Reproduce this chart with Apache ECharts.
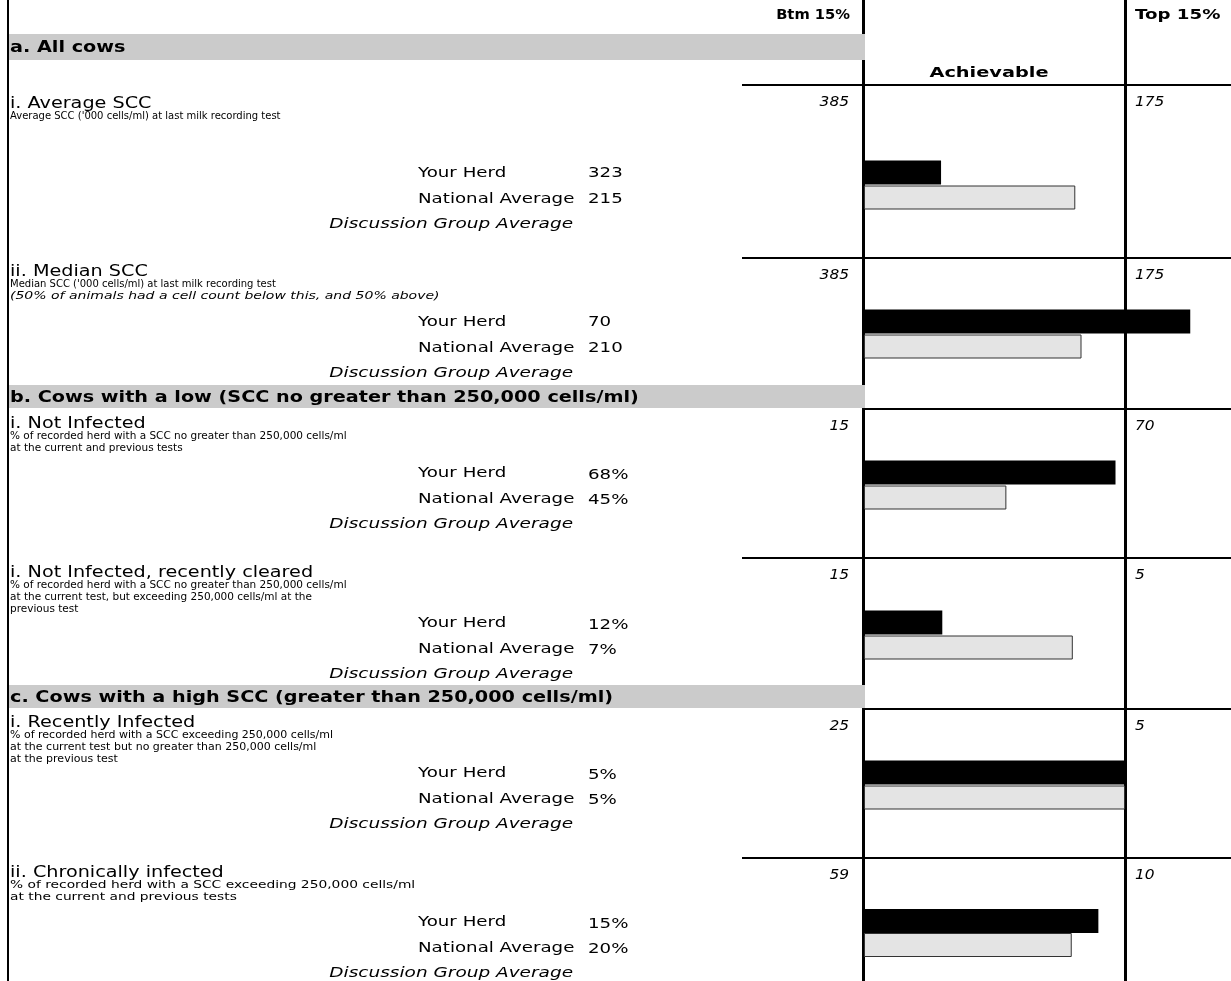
<!DOCTYPE html>
<html><head><meta charset="utf-8">
<script src="https://cdn.jsdelivr.net/npm/echarts@6/dist/echarts.min.js"></script>
<style>html,body{margin:0;padding:0;background:#fff}#c{width:1231px;height:981px}</style>
</head><body><div id="c"></div>
<script>
// ---------------- DATA ----------------
const sections = [
  'a. All cows',
  'b. Cows with a low (SCC no greater than 250,000 cells/ml)',
  'c. Cows with a high SCC (greater than 250,000 cells/ml)'
];
const columnHeaders = ['Btm 15%', 'Achievable', 'Top 15%'];
const categories = ['Your Herd', 'National Average', 'Discussion Group Average'];
const rowTitles = [
  'i. Average SCC',
  'ii. Median SCC',
  'i. Not Infected',
  'i. Not Infected, recently cleared',
  'i. Recently Infected',
  'ii. Chronically infected'
];
const rowDescriptions = [
  ["Average SCC ('000 cells/ml) at last milk recording test"],
  ["Median SCC ('000 cells/ml) at last milk recording test"],
  ['% of recorded herd with a SCC no greater than 250,000 cells/ml', 'at the current and previous tests'],
  ['% of recorded herd with a SCC no greater than 250,000 cells/ml', 'at the current test, but exceeding 250,000 cells/ml at the', 'previous test'],
  ['% of recorded herd with a SCC exceeding 250,000 cells/ml', 'at the current test but no greater than 250,000 cells/ml', 'at the previous test'],
  ['% of recorded herd with a SCC exceeding 250,000 cells/ml', 'at the current and previous tests']
];
const rowNotes = ['', '(50% of animals had a cell count below this, and 50% above)', '', '', '', ''];
const btmValues = [385, 385, 15, 15, 25, 59];
const topValues = [175, 175, 70, 5, 5, 10];
const yourHerd = [323, 70, 68, 12, 5, 15];
const nationalAverage = [215, 210, 45, 7, 5, 20];
const discussionGroup = [null, null, null, null, null, null];
const valueUnits = ['', '', '%', '%', '%', '%'];

// ---------------- LAYOUT ----------------
const FONT = '"DejaVu Sans", "Liberation Sans", Arial, sans-serif';
const X_BTM = 864, X_TOP = 1125;
const AXIS_MAX = 1.25;
const barTops = [160, 309, 460, 610, 760, 909];
const rowLines = [85, 258, 409, 558, 709, 858];
const rowLineStart = [742, 742, 863, 742, 863, 742];
const titleY = [104, 272, 424, 573, 723, 873];
const descScale = [1.0, 1.0, 1.05, 1.05, 1.1, 1.38];
const bands = [[34, 26], [385, 23], [685, 23]];

const score = (v, i) => (v == null ? '-' : (v - btmValues[i]) / (topValues[i] - btmValues[i]));

const grids = [], xAxes = [], yAxes = [], series = [];
barTops.forEach((t, i) => {
  grids.push({left: X_BTM, top: t, width: (X_TOP - X_BTM) * AXIS_MAX, height: 75});
  xAxes.push({type: 'value', gridIndex: i, min: 0, max: AXIS_MAX, show: false});
  yAxes.push({type: 'category', gridIndex: i, data: categories, inverse: true, show: false});
  series.push({
    type: 'bar', xAxisIndex: i, yAxisIndex: i, barWidth: 24, clip: true, silent: true,
    data: [
      {value: score(yourHerd[i], i), itemStyle: {color: '#000000'}},
      {value: score(nationalAverage[i], i), itemStyle: {color: '#e4e4e4', borderColor: '#333333', borderWidth: 1}},
      {value: score(discussionGroup[i], i), itemStyle: {color: '#999999'}}
    ]
  });
});

const g = [];
const line = (x1, y1, x2, y2, w) => g.push({type: 'line', silent: true, z: 1,
  shape: {x1, y1, x2, y2}, style: {stroke: '#000', lineWidth: w}});
const text = (t, x, y, size, opts = {}, sx = 1) => g.push({type: 'text', silent: true, z: 5,
  x, y, scaleX: sx, scaleY: 1,
  style: Object.assign({text: t, x: 0, y: 0, fontFamily: FONT, fontSize: size, fill: '#000',
    align: 'left', verticalAlign: 'middle'}, opts)});

// grid lines
line(8, 0, 8, 981, 2);
line(863.5, 0, 863.5, 981, 3);
line(1125.5, 0, 1125.5, 981, 3);
rowLines.forEach((y, i) => line(rowLineStart[i], y, 1231, y, 2));
// section bands
bands.forEach(b => g.push({type: 'rect', silent: true, z: 2,
  shape: {x: 9, y: b[0], width: 856, height: b[1]}, style: {fill: '#cbcbcb'}}));
sections.forEach((s, i) => text(s, 10, bands[i][0] + bands[i][1] / 2 + 1, 16, {fontWeight: 'bold'}, 1.2));

// column headers
text(columnHeaders[0], 850, 15, 14, {fontWeight: 'bold', align: 'right'}, 1.05);
text(columnHeaders[1], 989, 73, 14, {fontWeight: 'bold', align: 'center'}, 1.38);
text(columnHeaders[2], 1135, 15, 14, {fontWeight: 'bold'}, 1.3);

// rows
rowTitles.forEach((t, i) => {
  text(t, 10, titleY[i], 15, {}, 1.28);
  rowDescriptions[i].forEach((d, k) => text(d, 10, titleY[i] + 12.5 + 12 * k, 10, {}, descScale[i]));
  if (rowNotes[i]) text(rowNotes[i], 10, titleY[i] + 12.5 + 12 * rowDescriptions[i].length, 10, {fontStyle: 'italic'}, 1.4);
  const ny = rowLines[i] + 17;
  text(String(btmValues[i]), 849, ny, 14, {fontStyle: 'italic', align: 'right'}, 1.1);
  text(String(topValues[i]), 1135, ny, 14, {fontStyle: 'italic'}, 1.1);
  const by = barTops[i] + 13;
  text(categories[0], 418, by, 14, {}, 1.3);
  text(categories[1], 418, by + 26, 14, {}, 1.3);
  text(categories[2], 573, by + 51, 14, {fontStyle: 'italic', align: 'right'}, 1.32);
  text(yourHerd[i] + valueUnits[i], 588, by + (valueUnits[i] ? 2 : 0), 14, {}, 1.3);
  text(nationalAverage[i] + valueUnits[i], 588, by + 26 + (valueUnits[i] ? 1 : 0), 14, {}, 1.3);
  if (discussionGroup[i] != null) text(discussionGroup[i] + valueUnits[i], 588, by + 51, 14, {}, 1.3);
});

const chart = echarts.init(document.getElementById('c'), null, {renderer: 'canvas'});
chart.setOption({
  animation: false,
  backgroundColor: '#ffffff',
  grid: grids, xAxis: xAxes, yAxis: yAxes, series,
  graphic: {elements: g}
});
</script>
</body></html>
